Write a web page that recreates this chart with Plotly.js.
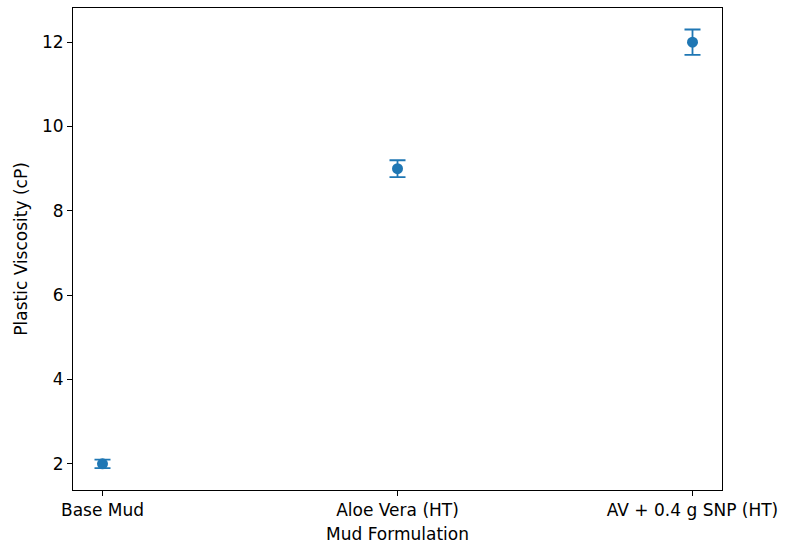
<!DOCTYPE html>
<html><head><meta charset="utf-8">
<script src="https://cdn.plot.ly/plotly-3.0.1.min.js"></script>
<style>body{margin:0;background:#fff}#c{width:786px;height:545px}</style>
</head><body><div id="c"></div>
<script>
const categories = ["Base Mud", "Aloe Vera (HT)", "AV + 0.4 g SNP (HT)"];
const values = [2, 9, 12];
const errors = [0.1, 0.2, 0.3];
const xIdx = categories.map((_, i) => i);

const trace = {
  x: xIdx, y: values, type: 'scatter', mode: 'markers',
  marker: {color: '#1f77b4', size: 11},
  error_y: {type: 'data', array: errors, visible: true, color: '#1f77b4', thickness: 1.8, width: 8},
  showlegend: false
};
const font = {family: 'DejaVu Sans', size: 17, color: '#000'};
const layout = {
  width: 786, height: 545,
  margin: {l: 73, r: 64, t: 8, b: 55},
  paper_bgcolor: '#fff', plot_bgcolor: '#fff',
  font: font,
  xaxis: {
    range: [-0.1, 2.1], tickvals: xIdx, ticktext: categories,
    showgrid: false, zeroline: false, showline: true, mirror: true,
    linecolor: '#000', linewidth: 1, ticks: 'outside', ticklen: 5, tickcolor: '#000',
    tickfont: font,
    title: {text: 'Mud Formulation', font: font, standoff: 8}
  },
  yaxis: {
    range: [1.38, 12.81], tickvals: [2, 4, 6, 8, 10, 12],
    showgrid: false, zeroline: false, showline: true, mirror: true,
    linecolor: '#000', linewidth: 1, ticks: 'outside', ticklen: 5, tickcolor: '#000',
    tickfont: font,
    title: {text: 'Plastic Viscosity (cP)', font: font, standoff: 10}
  }
};
Plotly.newPlot('c', [trace], layout, {displayModeBar: false});
</script></body></html>
